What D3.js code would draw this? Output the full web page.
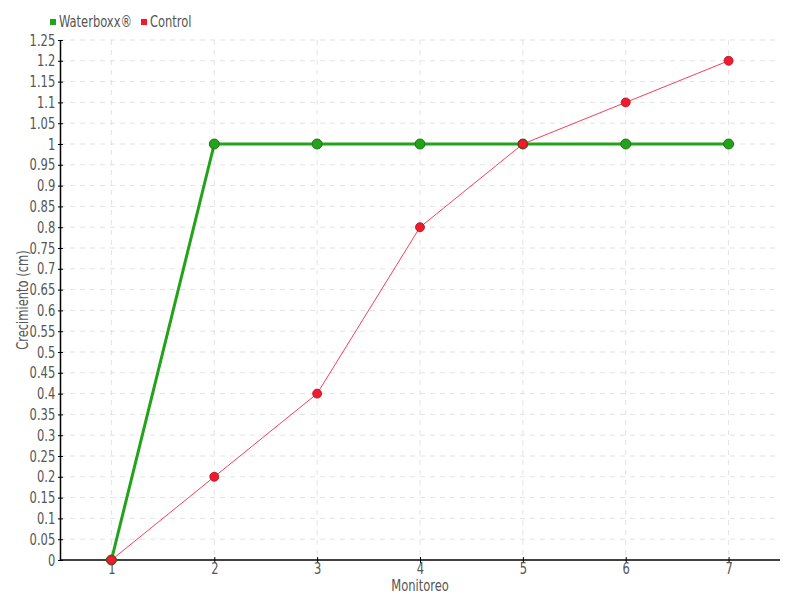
<!DOCTYPE html>
<html><head><meta charset="utf-8">
<script src="https://cdn.jsdelivr.net/npm/d3@7"></script>
<style>
body{margin:0;background:#fff;}
text{font-family:"DejaVu Sans Condensed","DejaVu Sans",sans-serif;font-stretch:condensed;fill:#555;}
</style></head><body>
<svg id="c" width="800" height="600"></svg>
<script>
const categories = ["1","2","3","4","5","6","7"];
const waterboxx = [0,1,1,1,1,1,1];
const control = [0,0.2,0.4,0.8,1,1.1,1.2];
const yTicks = d3.range(0,26).map(i=>+(i*0.05).toFixed(2));
const seriesNames = ["Waterboxx®","Control"];
const colors = ["#22a31a","#ee1c2e"];

const FS = "16px", SX = 0.8;
const svg = d3.select("#c");
const m = {l:60,r:20,t:40,b:40};
const W = 800, H = 600;
const x = d3.scalePoint().domain(categories).range([m.l, W-m.r]).padding(0.5);
const y = d3.scaleLinear().domain([0,1.25]).range([H-m.b, m.t]);

// grid
const g = svg.append("g");
g.selectAll(".hy").data(yTicks.slice(1)).join("line")
  .attr("x1",m.l).attr("x2",W-m.r).attr("y1",d=>y(d)).attr("y2",d=>y(d))
  .attr("stroke","#e3e3e3").attr("stroke-dasharray","5,5");
g.selectAll(".vx").data(categories).join("line")
  .attr("x1",d=>x(d)).attr("x2",d=>x(d)).attr("y1",m.t).attr("y2",H-m.b)
  .attr("stroke","#e3e3e3").attr("stroke-dasharray","5,5");

// axes
const fmt = d=>String(d);
const ya = svg.append("g").attr("transform",`translate(${m.l},0)`)
  .call(d3.axisLeft(y).tickValues(yTicks).tickFormat(fmt).tickSizeInner(3).tickSizeOuter(0).tickPadding(3));
ya.selectAll(".tick line").attr("x1",-2).attr("x2",3).attr("stroke","#000");
ya.select(".domain").attr("stroke","#000").attr("stroke-width",1.5);
ya.selectAll("text").style("font-size",FS).attr("fill","#555").attr("transform",`scale(${SX},1)`);

const xa = svg.append("g").attr("transform",`translate(0,${H-m.b})`)
  .call(d3.axisBottom(x).tickSizeInner(3).tickSizeOuter(0).tickPadding(0));
xa.selectAll(".tick line").attr("y1",-3).attr("y2",3).attr("stroke","#000");
xa.select(".domain").attr("d",`M${m.l},0H${W-m.r}`).attr("stroke","#000").attr("stroke-width",1.5);
xa.selectAll("text").style("font-size",FS).attr("fill","#555").attr("transform",`scale(${SX},1)`);

svg.append("text").attr("transform",`translate(${(m.l+W-m.r)/2},591) scale(${SX},1)`).attr("text-anchor","middle")
  .style("font-size",FS).text("Monitoreo");
svg.append("text").attr("transform",`translate(28,${(m.t+H-m.b)/2}) rotate(-90) scale(${SX},1)`).attr("text-anchor","middle")
  .style("font-size",FS).text("Crecimiento (cm)");

// lines
const line = d3.line().x((d,i)=>x(categories[i])).y(d=>y(d));
svg.append("path").datum(waterboxx).attr("d",line).attr("fill","none").attr("stroke",colors[0]).attr("stroke-width",3);
svg.selectAll(".wd").data(waterboxx).join("circle")
  .attr("cx",(d,i)=>x(categories[i])).attr("cy",d=>y(d)).attr("r",5)
  .attr("fill",colors[0]).attr("stroke","#1a7a16").attr("stroke-width",1);
svg.append("path").datum(control).attr("d",line).attr("fill","none").attr("stroke","#f5405a").attr("stroke-width",1);
svg.selectAll(".cd").data(control).join("circle")
  .attr("cx",(d,i)=>x(categories[i])).attr("cy",d=>y(d)).attr("r",4.5)
  .attr("fill",colors[1]).attr("stroke","#b0101e").attr("stroke-width",0.8);

// legend
const lg = svg.append("g");
const lx = [50,141];
seriesNames.forEach((n,i)=>{
  lg.append("rect").attr("x",lx[i]).attr("y",19).attr("width",6).attr("height",6).attr("fill",colors[i]);
  lg.append("text").attr("transform",`translate(${lx[i]+9},27) scale(${SX},1)`).style("font-size",FS).text(n);
});
</script></body></html>
